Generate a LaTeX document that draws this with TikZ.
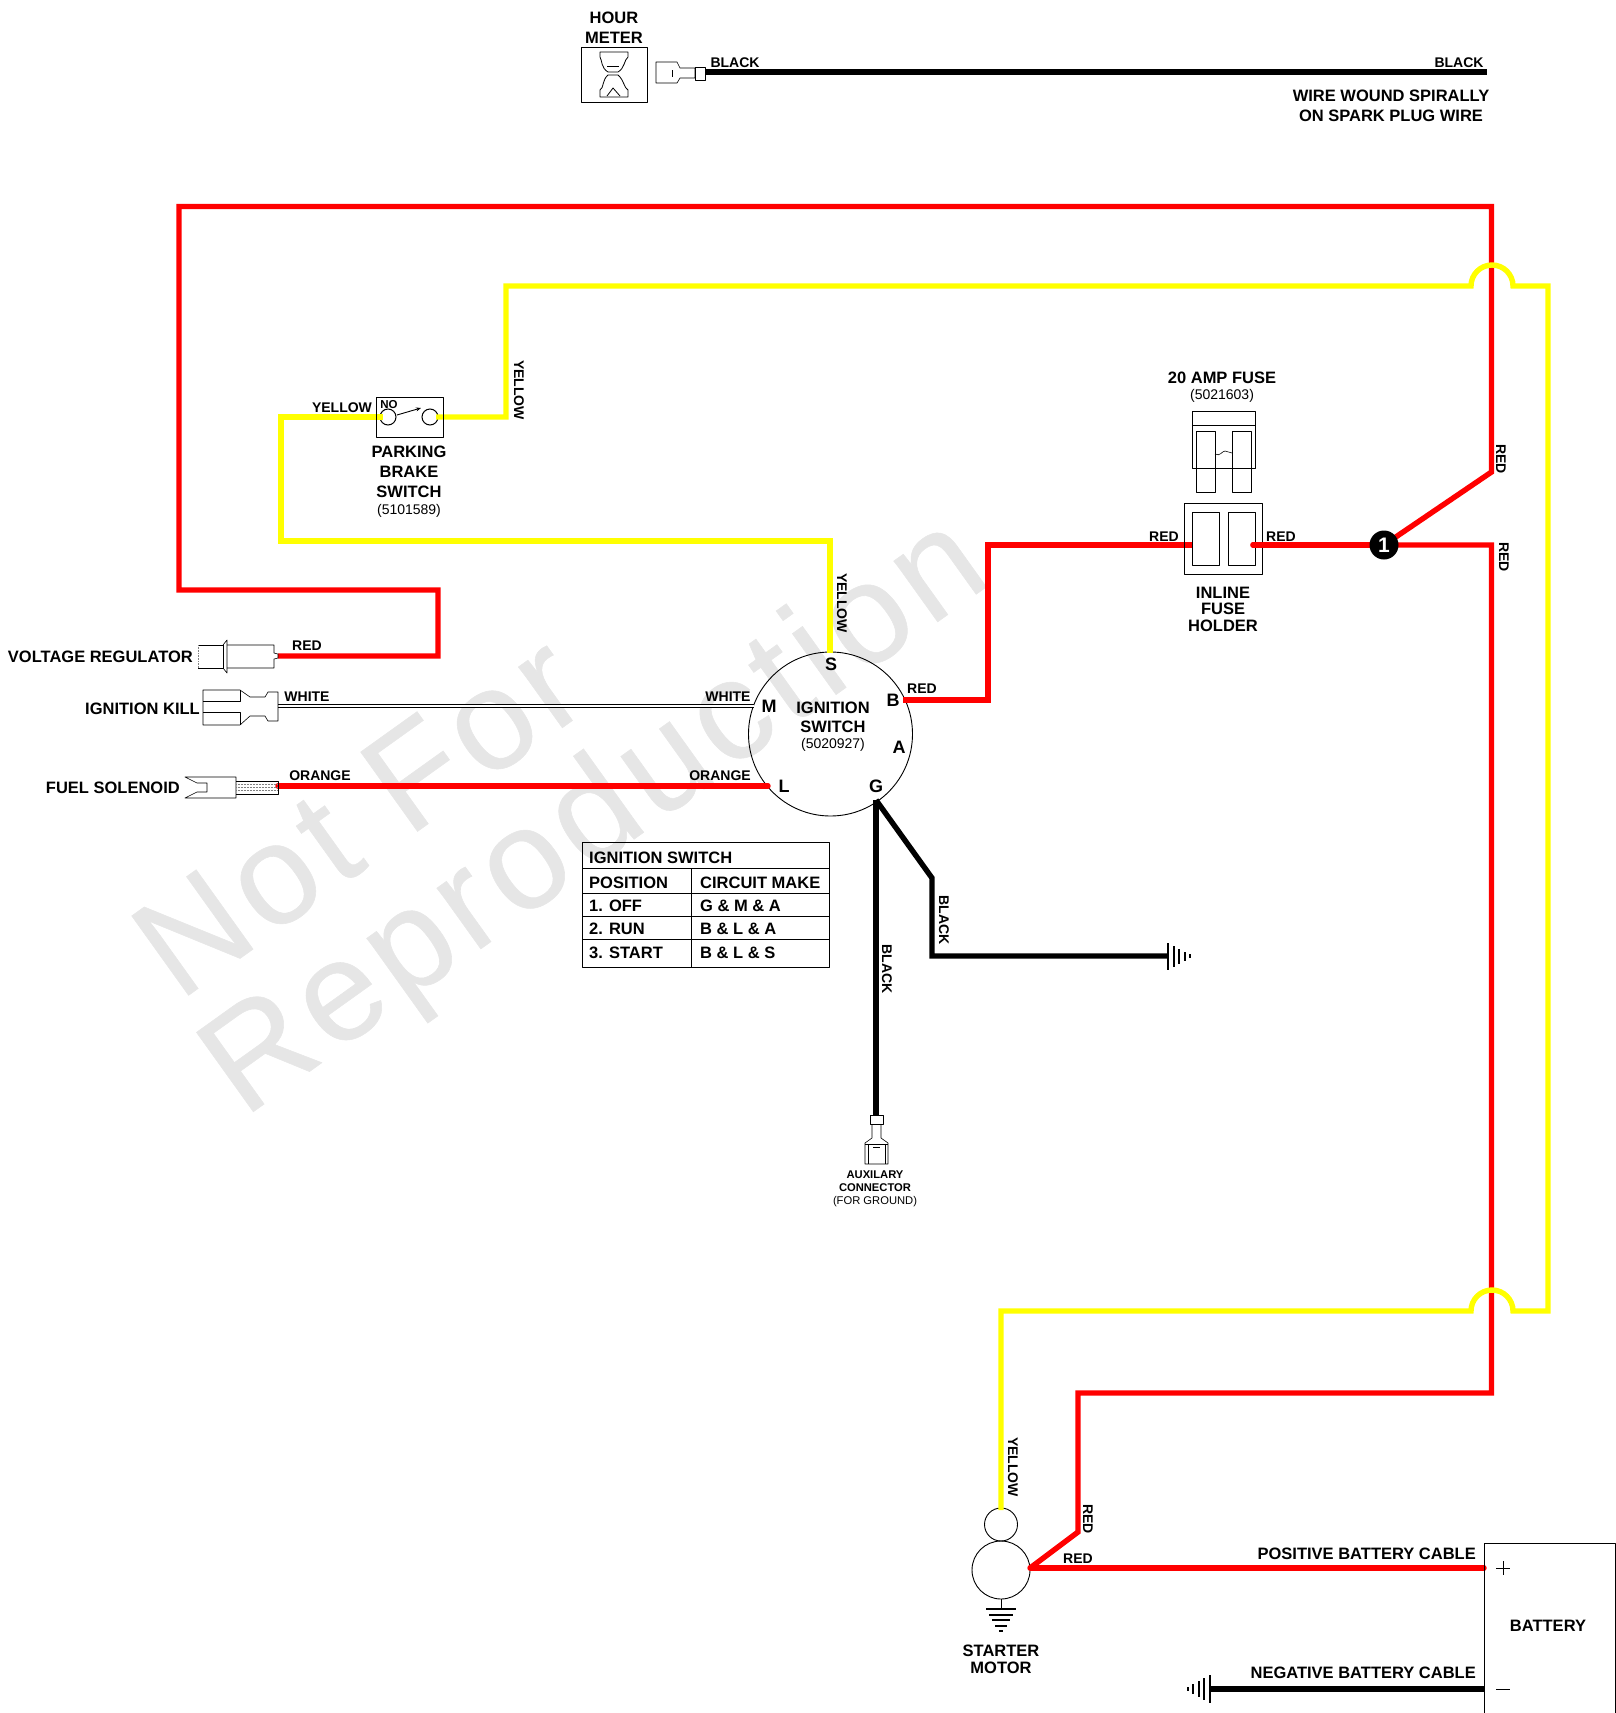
\documentclass[tikz,border=0pt]{standalone}
\usepackage{fontspec}
\setmainfont{Liberation Sans}
\newfontfamily\wmfont[LetterSpace=5,FakeBold=0.4]{Liberation Sans}
\usetikzlibrary{arrows.meta,calc}
\definecolor{wred}{HTML}{FF0000}
\definecolor{wyel}{HTML}{FFFF00}
\definecolor{wm}{HTML}{E6E6E6}
\tikzset{
  x=1pt,y=-1pt,
  lbl/.style={font=\fontsize{16.5}{16.5}\selectfont\bfseries,inner sep=0pt,align=center,yshift=-1pt},
  wlbl/.style={font=\fontsize{14}{14}\selectfont\bfseries,inner sep=0pt,yshift=-1pt},
  pin/.style={font=\fontsize{18}{18}\selectfont\bfseries,inner sep=0pt},
  partno/.style={font=\fontsize{14}{14}\selectfont,inner sep=0pt,yshift=-1pt},
  tiny/.style={font=\fontsize{11.2}{11.2}\selectfont\bfseries,inner sep=0pt,yshift=-1pt},
  tinyp/.style={font=\fontsize{11.2}{11.2}\selectfont,inner sep=0pt,yshift=-1pt},
  tbl/.style={font=\fontsize{16.5}{16.5}\selectfont\bfseries,inner sep=0pt,anchor=west,yshift=-1pt},
  wire/.style={line width=5.4pt,line join=miter},
  redw/.style={wire,wred},
  yelw/.style={wire,wyel},
  blkw/.style={wire,black},
  part/.style={draw=black,line width=0.9pt,line join=round},
  thin part/.style={draw=black,line width=0.6pt,line join=round},
  wmark/.style={font=\fontsize{142}{142}\selectfont\wmfont,text=wm,inner sep=0pt,rotate=35.6,anchor=base},
}
\begin{document}
\begin{tikzpicture}
\useasboundingbox (0,0) rectangle (1616,1713);
% watermark
\node[wmark] (wm1) at (386,854) {Not For};
\node[wmark] (wm2) at (619,850) {Reproduction};

% ---------- hour meter
\draw[part] (581,47) rectangle (647,102);
\draw[part,line width=0.8pt] (600,52) -- (628,52) -- (628,57) .. controls (624,60) and (625,68) .. (618,72) -- (608,72) .. controls (601,68) and (602,60) .. (600,57) -- cycle;
\draw[part,line width=0.8pt] (607,66) -- (619,66);
\draw[part,line width=0.8pt] (608,75) -- (618,75) .. controls (624,80) and (624,88) .. (628,90) -- (628,97) -- (600,97) -- (600,90) .. controls (604,88) and (602,80) .. (608,75) -- cycle;
\draw[part,line width=0.8pt] (607,96) -- (613,88) -- (620,96);
\coordinate (hmw) at (705,72);
\coordinate (hme) at (1487,72);
\draw[blkw] (hmw) -- (hme);
\draw[thin part] (656,62) -- (677,62) -- (680,68) -- (695,68) -- (695,78) -- (680,78) -- (677,83) -- (656,83) -- cycle;
\draw[thin part,fill=white] (695,67) rectangle (705,80);
\draw[part] (672,70) -- (672,77);
\node[lbl] (hm1) at (614,17) {HOUR};
\node[lbl] (hm2) at (614,37) {METER};
\node[wlbl] (hm3) at (735,62) {BLACK};
\node[wlbl] (hm4) at (1459,62) {BLACK};
\node[lbl] (hm5) at (1391,95) {WIRE WOUND SPIRALLY};
\node[lbl] (hm6) at (1391,115) {ON SPARK PLUG WIRE};

% ---------- components: nodes
\node[draw=black,line width=0.9pt,circle,minimum size=164pt,inner sep=0pt] (ign) at (830.5,734) {};
\node[draw=black,line width=1pt,circle,minimum size=16pt,inner sep=0pt] (sw1) at (388,417) {};
\node[draw=black,line width=1pt,circle,minimum size=16pt,inner sep=0pt] (sw2) at (430,417) {};
\node[draw=black,line width=0.9pt,circle,minimum size=33pt,inner sep=0pt] (sol) at (1001,1524.5) {};
\node[draw=black,line width=0.9pt,circle,minimum size=58pt,inner sep=0pt] (mot) at (1001,1570) {};
\coordinate (pinS) at (830,653);
\coordinate (pinB) at (903,700);
\coordinate (pinG) at (876,800);
\coordinate (hub) at (1384,545);
\coordinate (mj) at (1030,1568);
\coordinate (fhl) at (1192,545);
\coordinate (fhr) at (1253,545);
\coordinate (vr) at (278,656);
\coordinate (fs) at (278,786);
\coordinate (pinL) at (768,786);
\coordinate (ik) at (278,706);
\coordinate (pinM) at (754,706);
\coordinate (batp) at (1484,1568);
\coordinate (batn) at (1484,1689);
\coordinate (gn) at (1210,1689);
\coordinate (aux) at (876,1115);
\coordinate (gnd1) at (1168,956);

% ---------- wires
\draw[redw] (hub) -- (1491.5,472) -- (1491.5,206.5) -- (179,206.5) -- (179,590) -- (438,590) -- (438,656) -- (vr);
\draw[redw] (hub) -- (1491.5,545) -- (1491.5,1393) -- (1078,1393) -- (1078,1532) -- (mj);
\draw[redw,line cap=round] (mj) -- (batp);
\draw[redw] (pinB) -- (988,700) -- (988,545) -- (fhl);
\draw[redw,line cap=round] (fhr) -- (hub);
\draw[redw,line cap=round] (pinL) -- (fs);
\draw[yelw] (pinS) -- (830,541) -- (281,541) -- (281,417) -- (383,417);
\draw[yelw] (436,417) -- (506,417) -- (506,286) -- (1471,286) arc[start angle=180,end angle=0,radius=21pt] -- (1548,286) -- (1548,1311) -- (1513,1311) arc[start angle=0,end angle=180,radius=21pt] -- (1001,1311) -- (1001,1510);
\draw[blkw] (pinG) -- (aux);
\draw[blkw] (pinG) -- (932,878) -- (932,956) -- (gnd1);
\draw[blkw] (gn) -- (batn);
\draw[black,line width=4.2pt] (ik) -- (pinM);
\draw[white,line width=1.8pt] (ik) -- (pinM);

% ---------- parking brake switch
\draw[part] (376,397) rectangle (443,437);
\node[font=\fontsize{11.5}{11.5}\selectfont\bfseries,inner sep=0pt] (no) at (389,405) {NO};
\draw[part,-{Stealth[length=5pt,width=4pt]}] (397,415) -- (421,408);
\node[wlbl] (ye1) at (342,407) {YELLOW};
\node[wlbl,rotate=-90] (ye2) at (519,389) {YELLOW};
\node[lbl] (pb1) at (409,451) {PARKING};
\node[lbl] (pb2) at (409,471) {BRAKE};
\node[lbl] (pb3) at (409,491) {SWITCH};
\node[partno] (pb4) at (409,510) {(5101589)};

% ---------- fuse
\draw[part] (1192,411) rectangle (1255,468);
\draw[part] (1192,425) -- (1255,425);
\draw[thin part] (1196,431) rectangle (1215,492);
\draw[thin part] (1232,431) rectangle (1251,492);
\draw[thin part] (1215,454) .. controls (1220,457) and (1222,451) .. (1225,451) .. controls (1228,451) and (1229,453) .. (1232,453);
\node[lbl] (f1) at (1222,377) {20 AMP FUSE};
\node[partno] (f2) at (1222,395) {(5021603)};
\draw[part] (1184,503) rectangle (1262,574);
\draw[part] (1192,512) rectangle (1219,565);
\draw[part] (1228,512) rectangle (1255,565);
\draw[redw,line cap=round] (fhr) -- (1262,545);
\node[lbl] (h1) at (1223,592) {INLINE};
\node[lbl] (h2) at (1223,608) {FUSE};
\node[lbl] (h3) at (1223,625) {HOLDER};
\node[wlbl] (rf1) at (1164,536) {RED};
\node[wlbl] (rf2) at (1281,536) {RED};
\node[circle,fill=black,minimum size=29pt,inner sep=0pt,text=white,font=\fontsize{21}{21}\selectfont\bfseries] (one) at (hub) {1};
\node[wlbl,rotate=-90] (r3) at (1501,458) {RED};
\node[wlbl,rotate=-90] (r4) at (1504,556) {RED};

% ---------- left connectors
\node[lbl,anchor=east] (vrl) at (193,656) {VOLTAGE REGULATOR};
\draw[thin part] (223,645) -- (198,645);
\draw[thin part,gray,densely dotted] (198,645) -- (198,668);
\draw[thin part] (198,668) -- (223,668) -- (223,645);
\draw[thin part] (223,645) -- (227,640) -- (227,673) -- (223,668);
\draw[thin part] (227,645) -- (274,645) -- (274,653) -- (278,654) -- (278,658) -- (274,659) -- (274,668) -- (227,668);
\node[wlbl] (r1) at (307,645) {RED};
\node[lbl,anchor=east] (ikl) at (200,708) {IGNITION KILL};
\draw[thin part] (203,690) -- (240,690) -- (250,697) -- (265,697) -- (268,692) -- (278,692) -- (278,721) -- (268,721) -- (265,716) -- (250,716) -- (240,725) -- (203,725) -- cycle;
\draw[thin part] (203,701) -- (240,701) -- (240,690);
\draw[thin part] (203,712) -- (240,712) -- (240,725);
\node[wlbl] (w1) at (307,696) {WHITE};
\node[wlbl] (w2) at (728,696) {WHITE};
\node[lbl,anchor=east] (fsl) at (180,787) {FUEL SOLENOID};
\draw[thin part] (185,777) -- (197,783) -- (207,783) -- (207,792) -- (197,792) -- (185,798) -- (236,798) -- (236,777) -- cycle;
\draw[thin part] (236,781) -- (278,781) -- (278,794) -- (236,794);
\draw[gray,line width=0.5pt,densely dotted] (236,784) -- (278,784) (236,787) -- (278,787) (236,790) -- (278,790);
\node[wlbl] (o1) at (320,775) {ORANGE};
\node[wlbl] (o2) at (720,775) {ORANGE};

% ---------- ignition switch texts
\node[pin] (pS) at (831,664) {S};
\node[pin] (pM) at (769,706) {M};
\node[pin] (pB) at (893,700) {B};
\node[pin] (pA) at (899,747) {A};
\node[pin] (pL) at (784,786) {L};
\node[pin] (pG) at (876,786) {G};
\node[lbl] (i1) at (833,707) {IGNITION};
\node[lbl] (i2) at (833,726) {SWITCH};
\node[partno] (i3) at (833,744) {(5020927)};
\node[wlbl,rotate=-90] (ye3) at (842,602) {YELLOW};
\node[wlbl] (r2) at (922,688) {RED};
\node[wlbl,rotate=-90] (b1) at (887,968) {BLACK};
\node[wlbl,rotate=-90] (b2) at (944,919) {BLACK};

% ---------- table
\draw[part] (582,842) rectangle (829,967);
\draw[part] (582,868) -- (829,868) (582,893) -- (829,893) (582,916) -- (829,916) (582,939) -- (829,939) (691,868) -- (691,967);
\node[tbl] (t0) at (589,857) {IGNITION SWITCH};
\node[tbl] (t1) at (589,882) {POSITION};
\node[tbl] (t2) at (700,882) {CIRCUIT MAKE};
\node[tbl] (t3) at (589,905) {1. OFF};
\node[tbl] (t4) at (700,905) {G \& M \& A};
\node[tbl] (t5) at (589,928) {2. RUN};
\node[tbl] (t6) at (700,928) {B \& L \& A};
\node[tbl] (t7) at (589,952) {3. START};
\node[tbl] (t8) at (700,952) {B \& L \& S};

% ---------- chassis ground
\draw[black,line width=1.4pt]
  (1168,943) -- (1168,970) (1174,946) -- (1174,967) (1179,949) -- (1179,964) (1185,952) -- (1185,961) (1190,954) -- (1190,958);

% ---------- aux connector
\draw[thin part,fill=white] (870,1115) rectangle (883,1124);
\draw[thin part] (872,1124) -- (872,1138) -- (865,1143) -- (865,1164) -- (888,1164) -- (888,1143) -- (881,1138) -- (881,1124);
\draw[thin part] (865,1144) -- (888,1144) (868,1144) -- (868,1164) (885,1144) -- (885,1164);
\draw[part] (873,1147) -- (880,1147);
\node[tiny] (a1) at (875,1174) {AUXILARY};
\node[tiny] (a2) at (875,1187) {CONNECTOR};
\node[tinyp] (a3) at (875,1201) {(FOR GROUND)};

% ---------- starter
\draw[black,line width=1pt] (mot.south) -- (1001,1609);
\draw[black,line width=1.4pt] (986,1609) -- (1016,1609) (989,1615) -- (1013,1615) (992,1620) -- (1010,1620) (995,1626) -- (1007,1626);
\draw[black,line width=1.6pt] (999,1631) -- (1003,1631);
\node[lbl] (st1) at (1001,1650) {STARTER};
\node[lbl] (st2) at (1001,1667) {MOTOR};
\node[wlbl,rotate=-90] (ye4) at (1013,1466) {YELLOW};
\node[wlbl,rotate=-90] (r5) at (1088,1518) {RED};
\node[wlbl] (r6) at (1078,1558) {RED};

% ---------- battery
\draw[part] (1484,1713) -- (1484,1543) -- (1615,1543) -- (1615,1713);
\draw[black,line width=0.9pt] (1496,1568) -- (1510,1568) (1503,1561) -- (1503,1575);
\draw[black,line width=0.9pt] (1496,1689) -- (1510,1689);
\node[lbl] (bt) at (1548,1625) {BATTERY};
\node[lbl,anchor=east] (bp) at (1476,1553) {POSITIVE BATTERY CABLE};
\node[lbl,anchor=east] (bn) at (1476,1672) {NEGATIVE BATTERY CABLE};
\draw[black,line width=1.4pt] (1210,1675) -- (1210,1703) (1204,1678) -- (1204,1700) (1199,1681) -- (1199,1697) (1193,1684) -- (1193,1694) (1188,1687) -- (1188,1691);
\end{tikzpicture}
\end{document}
